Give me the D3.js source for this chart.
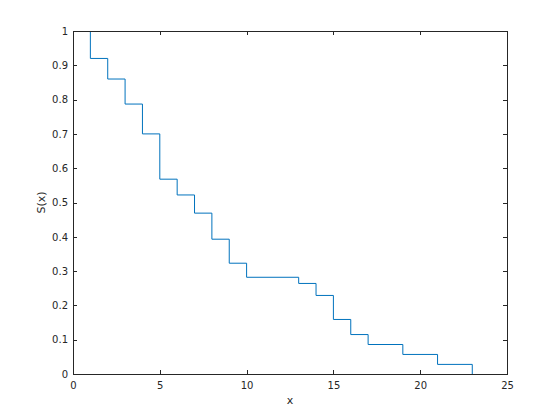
<!DOCTYPE html>
<html><head><meta charset="utf-8">
<script src="https://cdn.jsdelivr.net/npm/d3@7"></script>
<style>html,body{margin:0;padding:0;background:#fff;}svg{display:block;}</style>
</head><body>
<script>
const stepX = [1, 1, 2, 3, 4, 5, 6, 7, 8, 9, 10, 13, 14, 15, 16, 17, 19, 21, 23];
const stepY = [1, 0.92, 0.86, 0.787, 0.70, 0.568, 0.522, 0.469, 0.393, 0.323, 0.282, 0.264, 0.229, 0.159, 0.115, 0.086, 0.057, 0.028, 0];
const xTicks = [0, 5, 10, 15, 20, 25];
const yTicks = [0, 0.1, 0.2, 0.3, 0.4, 0.5, 0.6, 0.7, 0.8, 0.9, 1];
const xLabel = "x";
const yLabel = "S(x)";

const W = 560, H = 420;
const L = 73, R = 507, T = 31, B = 374;
const axisColor = "#262626";
const font = "DejaVu Sans, Helvetica, Arial, sans-serif";

const svg = d3.select("body").append("svg").attr("width", W).attr("height", H);
const x = d3.scaleLinear().domain([0, 25]).range([L, R]);
const y = d3.scaleLinear().domain([0, 1]).range([B, T]);

const pts = stepX.map((v, i) => [v, stepY[i]]);
const line = d3.line().x(d => x(d[0])).y(d => y(d[1])).curve(d3.curveStepAfter);
svg.append("path").attr("d", line(pts)).attr("fill", "none")
  .attr("stroke", "#0072BD").attr("stroke-width", 1);

const tl = 4;
function styleAxis(g) {
  g.selectAll("path").attr("stroke", axisColor);
  g.selectAll("line").attr("stroke", axisColor);
  g.selectAll("text").attr("fill", axisColor).style("font-family", font).style("font-size", "10px");
}
const fmt = d => d3.format("~g")(d);
// bottom
svg.append("g").attr("transform", `translate(0,${B})`)
  .call(d3.axisBottom(x).tickValues(xTicks).tickFormat(fmt).tickSizeInner(-tl).tickSizeOuter(0).tickPadding(8))
  .call(styleAxis);
// top
svg.append("g").attr("transform", `translate(0,${T})`)
  .call(d3.axisTop(x).tickValues(xTicks).tickFormat("").tickSizeInner(-tl).tickSizeOuter(0))
  .call(styleAxis);
// left
svg.append("g").attr("transform", `translate(${L},0)`)
  .call(d3.axisLeft(y).tickValues(yTicks).tickFormat(fmt).tickSizeInner(-tl).tickSizeOuter(0).tickPadding(5))
  .call(styleAxis);
// right
svg.append("g").attr("transform", `translate(${R},0)`)
  .call(d3.axisRight(y).tickValues(yTicks).tickFormat("").tickSizeInner(-tl).tickSizeOuter(0))
  .call(styleAxis);

svg.selectAll(".domain").attr("stroke-width", 1).attr("shape-rendering", "crispEdges");
svg.selectAll(".tick line").attr("shape-rendering", "crispEdges");

svg.append("text").attr("x", (L + R) / 2).attr("y", 404).attr("text-anchor", "middle")
  .attr("fill", axisColor).style("font-family", font).style("font-size", "11px").text(xLabel);
svg.append("text").attr("transform", `translate(45,${(T + B) / 2}) rotate(-90)`).attr("text-anchor", "middle")
  .attr("fill", axisColor).style("font-family", font).style("font-size", "11px").text(yLabel);
</script>
</body></html>
